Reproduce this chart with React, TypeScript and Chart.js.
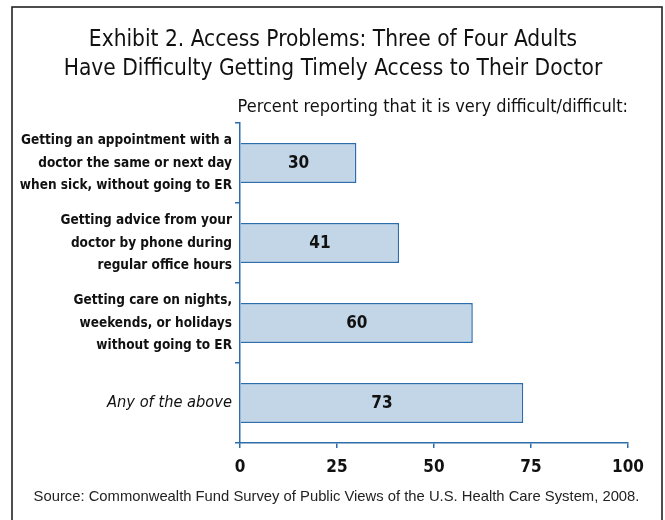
import React, { useEffect, useRef } from "react";
import { Chart, registerables } from "chart.js";

Chart.register(...registerables);

const titleLines = [
  "Exhibit 2. Access Problems: Three of Four Adults",
  "Have Difficulty Getting Timely Access to Their Doctor",
];
const subtitle = "Percent reporting that it is very difficult/difficult:";
const categories: string[][] = [
  ["Getting an appointment with a", "doctor the same or next day", "when sick, without going to ER"],
  ["Getting advice from your", "doctor by phone during", "regular office hours"],
  ["Getting care on nights,", "weekends, or holidays", "without going to ER"],
  ["Any of the above"],
];
const values = [30, 41, 60, 73];
const xTicks = [0, 25, 50, 75, 100];
const source = "Source: Commonwealth Fund Survey of Public Views of the U.S. Health Care System, 2008.";

const COND = "'Liberation Sans Narrow', 'DejaVu Sans Condensed', 'Roboto Condensed', 'Noto Sans', sans-serif";
const AXIS_BLUE = "#2D6DAC";
const BAR_FILL = "#C3D6E7";

const decorPlugin = {
  id: "decor",
  beforeDraw(chart: any) {
    const ctx = chart.ctx;
    ctx.save();
    ctx.fillStyle = "#ffffff";
    ctx.fillRect(0, 0, chart.width, chart.height);
    ctx.strokeStyle = "#222222";
    ctx.lineWidth = 1.6;
    ctx.strokeRect(12, 7, 650, 540);
    ctx.restore();
  },
  afterDraw(chart: any) {
    const ctx = chart.ctx;
    ctx.save();
    ctx.fillStyle = "#111111";
    ctx.textAlign = "center";
    ctx.textBaseline = "middle";
    ctx.font = `22.5px ${COND}`;
    ctx.fillText(titleLines[0], 333, 40);
    ctx.fillText(titleLines[1], 333, 69);
    ctx.textAlign = "right";
    ctx.font = `18px ${COND}`;
    ctx.fillText(subtitle, chart.chartArea.right, 107);
    ctx.textAlign = "center";
    ctx.font = "14.8px 'Liberation Sans', Arial, sans-serif";
    ctx.fillStyle = "#222222";
    ctx.fillText(source, 336.5, 497);
    // value labels
    const meta = chart.getDatasetMeta(0);
    ctx.fillStyle = "#111111";
    ctx.font = `bold 17px ${COND}`;
    meta.data.forEach((bar: any, i: number) => {
      const cx = (bar.x + bar.base) / 2;
      ctx.fillText(String(values[i]), cx, bar.y + 1);
    });
    ctx.restore();
  },
};

export default function App() {
  const ref = useRef<HTMLCanvasElement | null>(null);
  useEffect(() => {
    if (!ref.current) return;
    const chart = new Chart(ref.current, {
      type: "bar",
      data: {
        labels: categories,
        datasets: [
          {
            data: values,
            backgroundColor: BAR_FILL,
            borderColor: AXIS_BLUE,
            borderWidth: 1.5,
            barPercentage: 0.5,
            categoryPercentage: 1,
          },
        ],
      },
      options: {
        indexAxis: "y",
        animation: false,
        responsive: false,
        maintainAspectRatio: false,
        layout: { padding: { left: 0, top: 123, right: 37, bottom: 0 } },
        plugins: {
          legend: { display: false },
          tooltip: { enabled: false },
          title: { display: false },
        },
        scales: {
          x: {
            min: 0,
            max: 100,
            afterBuildTicks: (scale: any) => {
              scale.ticks = xTicks.map((v) => ({ value: v }));
            },
            afterFit: (scale: any) => {
              scale.height = 77;
            },
            border: { color: AXIS_BLUE, width: 1.5 },
            grid: { drawOnChartArea: false, drawTicks: true, tickLength: 5, color: AXIS_BLUE, lineWidth: 1.5 },
            ticks: {
              color: "#111111",
              font: { family: COND, size: 17, weight: "bold" },
              padding: 9,
              maxRotation: 0,
            },
          },
          y: {
            afterFit: (scale: any) => {
              scale.width = 240;
            },
            border: { color: AXIS_BLUE, width: 1.5 },
            grid: { drawOnChartArea: false, drawTicks: true, tickLength: 5, color: AXIS_BLUE, lineWidth: 1.5, offset: true },
            ticks: {
              color: "#111111",
              padding: 3,
              font: (c: any) =>
                c.index === 3
                  ? { family: COND, size: 16.3, style: "italic", weight: "normal", lineHeight: 1.3 }
                  : { family: COND, size: 13.5, weight: "bold", lineHeight: 1.65 },
            },
          },
        },
      },
      plugins: [decorPlugin],
    });
    return () => chart.destroy();
  }, []);
  return (
    <div style={{ position: "fixed", left: 0, top: 0, width: 665, height: 520, background: "#fff" }}>
      <canvas ref={ref} width={665} height={520} style={{ display: "block", width: 665, height: 520 }} />
    </div>
  );
}
